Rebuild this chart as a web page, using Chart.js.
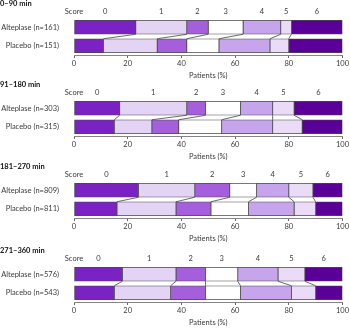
<!DOCTYPE html>
<html>
<head>
<meta charset="utf-8">
<script src="https://cdn.jsdelivr.net/npm/chart.js@4.4.0/dist/chart.umd.min.js"></script>
<style>
  html, body { margin: 0; padding: 0; background: #fff; }
  #wrap { position: relative; width: 350px; height: 329px; }
  .panel { position: absolute; left: 0; width: 350px; height: 82px; }
</style>
</head>
<body>
<div id="wrap"></div>
<script>
// modified Rankin score categories
const scores = ['0', '1', '2', '3', '4', '5', '6'];
const timeWindows = ['0–90 min', '91–180 min', '181–270 min', '271–360 min'];
const alteplaseN = [161, 303, 809, 576];
const placeboN = [151, 315, 811, 543];
const xTicks = [0, 20, 40, 60, 80, 100];

// percentages of patients per score
const alteplase0to90 = [23, 19, 8, 13, 14, 4, 19];
const placebo0to90 = [11, 20, 11, 12, 19, 7, 20];
const alteplase91to180 = [17, 25, 7, 13, 12, 8, 18];
const placebo91to180 = [15, 14, 10, 16, 19, 11, 15];
const alteplase181to270 = [24, 21, 13, 10, 12, 9, 11];
const placebo181to270 = [16, 22, 13, 14, 17, 8, 10];
const alteplase271to360 = [18, 20, 11, 12, 15, 10, 14];
const placebo271to360 = [15, 21, 13, 13, 19, 9, 10];

const alteplaseAll = [alteplase0to90, alteplase91to180, alteplase181to270, alteplase271to360];
const placeboAll = [placebo0to90, placebo91to180, placebo181to270, placebo271to360];

const colors = ['#7a22c4', '#e3d4f5', '#a55fdd', '#ffffff', '#c7a5ec', '#eadcf7', '#5a0099'];
const panelTops = [0, 81, 163, 247];
const FONT = 'Lato, "Open Sans", sans-serif';
const TEXT = '#3a3a3a';

// draws panel title, score labels and the lines joining the two bars
const grottaPlugin = {
  id: 'grotta',
  afterDatasetsDraw(chart, args, opts) {
    const ctx = chart.ctx;
    const area = chart.chartArea;
    ctx.save();
    // connecting lines
    ctx.strokeStyle = '#444';
    ctx.lineWidth = 0.8;
    for (let i = 0; i < chart.data.datasets.length - 1; i++) {
      const meta = chart.getDatasetMeta(i);
      const top = meta.data[0];
      const bot = meta.data[1];
      ctx.beginPath();
      ctx.moveTo(top.x, top.y + top.height / 2);
      ctx.lineTo(bot.x, bot.y - bot.height / 2);
      ctx.stroke();
    }
    // score labels above the first bar
    ctx.fillStyle = TEXT;
    ctx.font = '7.5px ' + FONT;
    ctx.textAlign = 'center';
    ctx.textBaseline = 'middle';
    ctx.fillText('Score', area.left, area.top - 6);
    chart.data.datasets.forEach((ds, i) => {
      const el = chart.getDatasetMeta(i).data[0];
      ctx.fillText(ds.label, (el.x + el.base) / 2, area.top - 6);
    });
    // panel title
    ctx.fillStyle = '#111';
    ctx.font = 'bold 7.5px ' + FONT;
    ctx.textAlign = 'left';
    ctx.fillText(opts.title, 0, 4);
    ctx.restore();
  }
};

timeWindows.forEach((title, p) => {
  const canvas = document.createElement('canvas');
  canvas.className = 'panel';
  canvas.style.top = panelTops[p] + 'px';
  canvas.width = 350;
  canvas.height = 82;
  document.getElementById('wrap').appendChild(canvas);

  const datasets = scores.map((s, i) => ({
    label: s,
    data: [alteplaseAll[p][i], placeboAll[p][i]],
    backgroundColor: colors[i],
    borderColor: '#4a4a4a',
    borderWidth: 0.8,
    borderSkipped: false,
    barThickness: 14
  }));

  new Chart(canvas.getContext('2d'), {
    type: 'bar',
    data: {
      labels: ['Alteplase (n=' + alteplaseN[p] + ')', 'Placebo (n=' + placeboN[p] + ')'],
      datasets: datasets
    },
    options: {
      indexAxis: 'y',
      responsive: false,
      animation: false,
      layout: { padding: { top: 18, right: 6, left: 0, bottom: 0 } },
      plugins: {
        legend: { display: false },
        tooltip: { enabled: false },
        grotta: { title: title }
      },
      scales: {
        x: {
          stacked: true,
          min: 0,
          max: 100,
          afterBuildTicks: (scale) => { scale.ticks = xTicks.map(v => ({ value: v })); },
          grid: { drawOnChartArea: false, drawTicks: true, tickLength: 3, color: '#666' },
          border: { color: '#666', width: 0.8 },
          ticks: { color: TEXT, font: { size: 7.5, family: FONT }, padding: 1 },
          title: { display: true, text: 'Patients (%)', color: TEXT, font: { size: 7.5, family: FONT }, padding: { top: 1, bottom: 2 } },
          afterFit: (scale) => { scale.height = 27; }
        },
        y: {
          stacked: true,
          grid: { display: false },
          border: { display: false },
          ticks: { color: TEXT, font: { size: 7.5, family: FONT }, padding: 7 },
          afterFit: (scale) => { scale.width = 74; }
        }
      }
    },
    plugins: [grottaPlugin]
  });
});
</script>
</body>
</html>
